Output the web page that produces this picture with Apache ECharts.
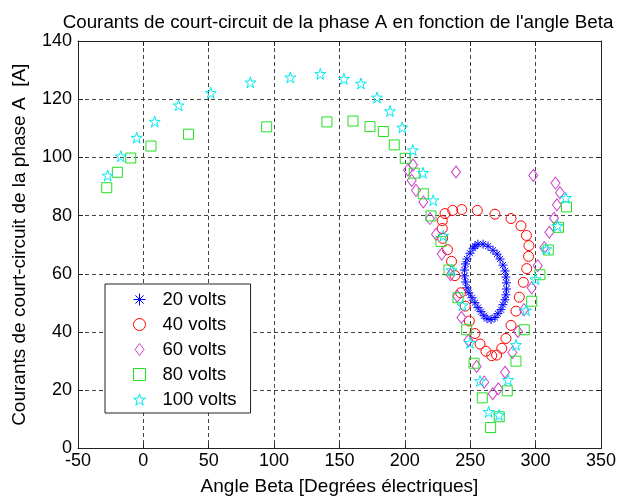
<!DOCTYPE html>
<html><head><meta charset="utf-8">
<script src="https://cdn.jsdelivr.net/npm/echarts@6/dist/echarts.min.js"></script>
<style>html,body{margin:0;padding:0;background:#fff}#c{width:619px;height:501px}</style>
</head><body><div id="c"></div>
<script>
const titleText = "Courants de court-circuit de la phase A en fonction de l'angle Beta";
const xName = "Angle Beta [Degrées électriques]";
const yName = "Courants de court-circuit de la phase A  [A]";
const seriesNames = ['20 volts','40 volts','60 volts','80 volts','100 volts'];
const xRange = [-50, 350, 50];
const yRange = [0, 140, 20];

const v20 = [[255.9,70.2],[259.8,70.2],[263.6,69.5],[267.4,68.1],[270.5,66.8],[272.8,65.1],[275.0,63.0],[276.6,61.0],[277.3,58.9],[277.7,56.9],[277.7,54.8],[277.3,52.8],[276.6,51.1],[275.0,49.4],[273.5,47.7],[271.2,46.3],[268.9,45.0],[265.9,44.3],[262.8,44.6],[260.5,45.6],[258.2,47.0],[255.9,48.4],[253.6,50.1],[251.3,51.8],[249.0,53.5],[247.5,55.2],[246.4,57.2],[245.6,59.3],[245.6,61.3],[246.4,63.4],[247.5,65.1],[249.8,67.1],[252.1,68.8],[253.6,69.5]];

const v40 = [[228.6,78.3],[228.6,75.6],[228.9,72.2],[232.6,68.3],[235.7,64.3],[238.3,59.4],[242.7,53.5],[246.2,48.9],[249.3,43.8],[253.6,39.5],[257.5,35.9],[262.0,33.4],[266.4,31.9],[270.2,32.1],[274.1,34.4],[277.3,37.8],[281.2,42.3],[285.0,47.2],[287.5,52.0],[290.6,57.1],[293.2,61.8],[294.6,66.0],[294.9,69.7],[293.0,73.2],[288.8,76.5],[281.2,79.0],[268.9,80.5],[255.4,81.8],[243.5,82.1],[236.6,81.8],[230.7,80.7]];

const v60 = [[206.2,97.4],[202.4,95.7],[205.2,92.1],[208.5,88.7],[214.1,84.7],[219.2,79.0],[223.8,73.6],[228.2,66.8],[235.0,59.7],[240.1,52.3],[243.2,45.0],[248.5,37.1],[254.9,28.2],[260.7,22.8],[267.2,18.8],[271.5,20.5],[276.6,26.2],[282.2,33.0],[286.5,40.2],[291.1,47.7],[297.0,55.2],[301.6,62.8],[306.6,69.0],[310.5,74.3],[314.1,79.1],[316.3,83.7],[318.6,87.9],[315.2,91.2],[239.1,95.0],[298.2,93.8]];

const v80 = [[-28.0,89.6],[-19.9,94.9],[-9.7,99.8],[5.8,103.9],[34.5,108.0],[94.3,110.5],[140.4,112.2],[160.3,112.5],[173.3,110.6],[183.5,108.9],[191.9,104.3],[200.3,99.7],[207.2,94.6],[214.1,87.5],[220.0,79.9],[227.6,71.1],[233.7,61.3],[240.6,51.8],[247.3,40.8],[252.9,29.3],[259.2,17.4],[265.6,7.2],[272.2,10.9],[278.3,19.8],[285.0,30.0],[291.3,40.8],[297.0,50.6],[303.3,59.7],[309.7,68.2],[317.5,76.0],[323.6,83.0]];

const v100 = [[-27.3,93.8],[-17.3,100.4],[-5.1,106.8],[8.7,112.3],[27.0,117.9],[51.5,122.2],[81.8,125.8],[112.4,127.5],[135.3,128.7],[153.4,127.0],[166.4,125.4],[178.7,120.6],[188.6,115.9],[198.0,110.3],[206.1,102.5],[213.9,94.7],[221.7,85.3],[229.4,73.1],[235.7,61.3],[244.1,49.2],[249.8,36.3],[257.5,23.2],[264.1,12.6],[272.0,11.5],[278.9,23.6],[285.0,35.6],[292.6,47.5],[299.9,58.2],[308.3,68.5],[316.7,76.5],[323.2,86.1]];

const seriesData = [v20, v40, v60, v80, v100];
const colors = ['#0000ff','#ff0000','#cc3fcc','#22e022','#00e8ee'];
const asterisk = 'path://M0,5L10,5M5,0L5,10M1.6,1.6L8.4,8.4M1.6,8.4L8.4,1.6';
const circlePath = 'circle';
const diamondPath = 'path://M4.5,0L9,6L4.5,12L0,6Z';
const squarePath = 'path://M0,0L10,0L10,10L0,10Z';
const pentagram = 'path://M50,0L61.23,34.55L97.55,34.55L68.17,55.9L79.39,90.45L50,69.1L20.61,90.45L31.83,55.9L2.45,34.55L38.77,34.55Z';
const symbols = [asterisk, circlePath, diamondPath, squarePath, pentagram];
const sizes = [9, 10, [9,12], 10, 11];

const chart = echarts.init(document.getElementById('c'), null, {renderer:'canvas'});
const font = 'Liberation Sans, Arial, sans-serif';
const gridLine = {show:true, lineStyle:{color:'#444', type:[4,3], width:1}};
function axisBase(extra){
  return Object.assign({
    type:'value', axisLine:{show:true, onZero:false, lineStyle:{color:'#222', width:1}},
    axisTick:{show:true, inside:true, length:5, lineStyle:{color:'#222'}},
  }, extra);
}
function fill(i){ return i===0 ? colors[i] : 'rgba(0,0,0,0)'; }
const option = {
  animation:false,
  backgroundColor:'#fff',
  title:{text:titleText, left:333, top:8, textAlign:'center',
    textStyle:{fontFamily:font, fontSize:18.8, fontWeight:'normal', color:'#000'}},
  grid:{left:78, top:41, right:18, bottom:49, show:false},
  legend:{orient:'vertical', left:105, top:284,
    data:seriesNames.map((n,i)=>({name:n, icon:symbols[i],
      itemStyle:{color:fill(i), borderColor:colors[i], borderWidth:1}})),
    backgroundColor:'#fff', borderColor:'#222', borderWidth:1,
    padding:[6,14,4,28], itemWidth:12, itemHeight:12, itemGap:6, symbolKeepAspect:true,
    textStyle:{fontFamily:font, fontSize:18.5, color:'#000', padding:[0,0,0,12]}},
  xAxis:[
    axisBase({min:xRange[0], max:xRange[1], interval:xRange[2], position:'bottom',
      name:xName, nameLocation:'middle', nameGap:28.5,
      nameTextStyle:{fontFamily:font, fontSize:19, color:'#000'},
      axisLabel:{fontFamily:font, fontSize:18, color:'#000', margin:4},
      splitLine:gridLine}),
    axisBase({min:xRange[0], max:xRange[1], interval:xRange[2], position:'top',
      axisLabel:{show:false}, splitLine:{show:false}})
  ],
  yAxis:[
    axisBase({min:yRange[0], max:yRange[1], interval:yRange[2], position:'left',
      name:yName, nameLocation:'middle', nameGap:48.5,
      nameTextStyle:{fontFamily:font, fontSize:19, color:'#000'},
      axisLabel:{fontFamily:font, fontSize:18, color:'#000', margin:6},
      splitLine:gridLine}),
    axisBase({min:yRange[0], max:yRange[1], interval:yRange[2], position:'right',
      axisLabel:{show:false}, splitLine:{show:false}})
  ],
  series: seriesNames.map((n,i)=>({
    name:n, type:'scatter', data:seriesData[i], symbol:symbols[i], symbolSize:sizes[i],
    xAxisIndex:0, yAxisIndex:0,
    itemStyle:{color:fill(i), borderColor:colors[i], borderWidth:1, opacity:1},
    emphasis:{disabled:true}
  }))
};
chart.setOption(option);
</script>
</body></html>
